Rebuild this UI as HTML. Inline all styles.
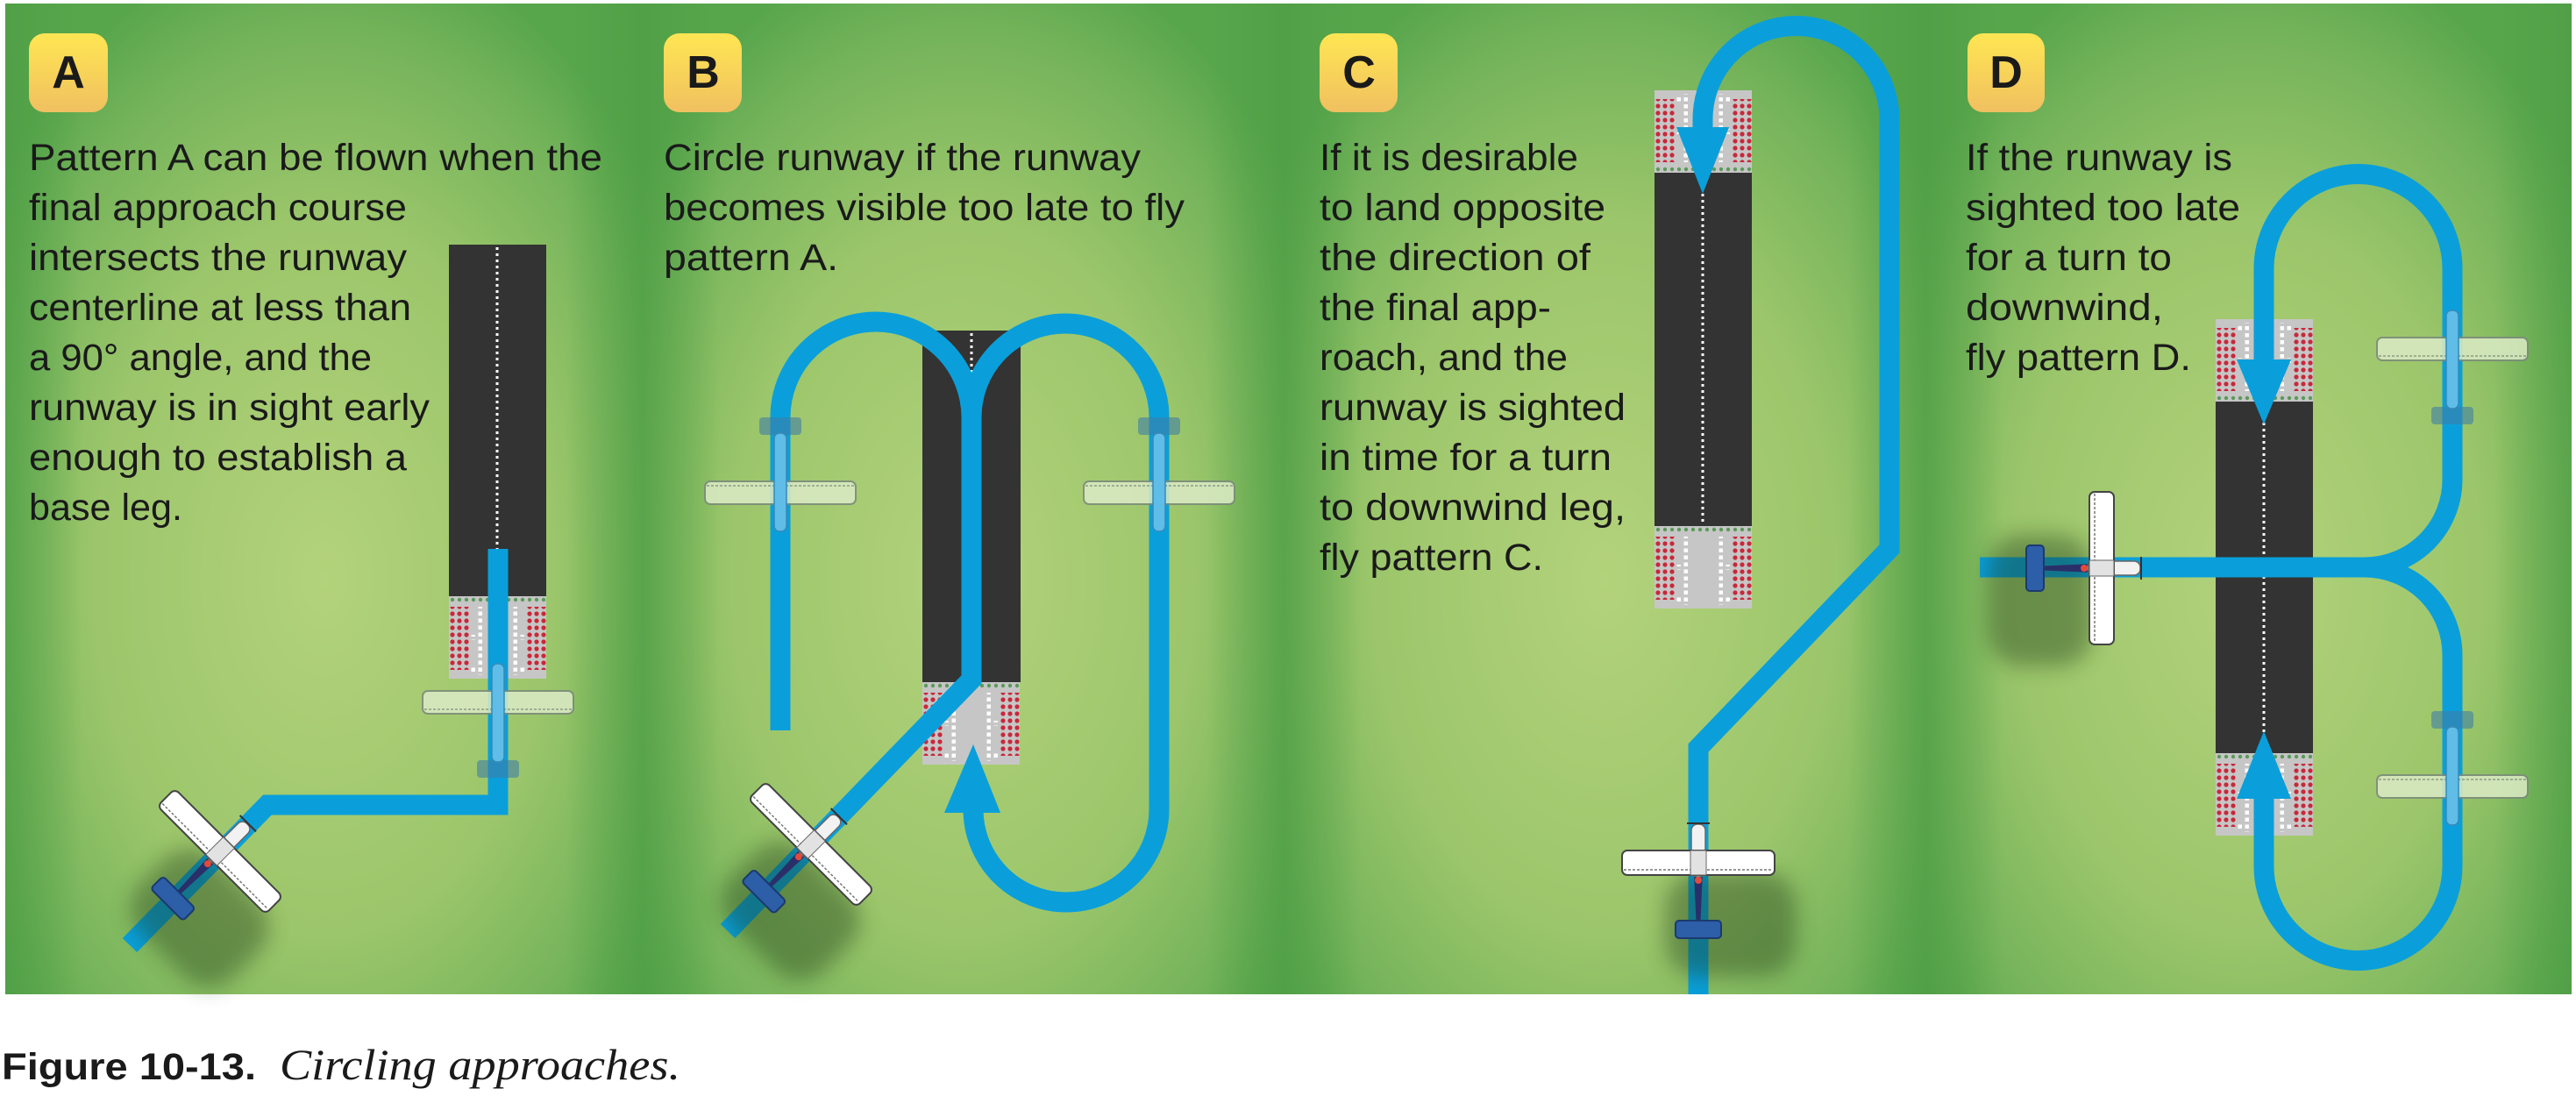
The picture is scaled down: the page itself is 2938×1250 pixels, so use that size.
<!DOCTYPE html>
<html><head><meta charset="utf-8"><style>html,body{margin:0;padding:0;background:#fff}svg{display:block}</style></head>
<body>
<svg width="2938" height="1250" viewBox="0 0 2938 1250" xmlns="http://www.w3.org/2000/svg">
<defs>
<radialGradient id="bg" cx="50%" cy="58%" r="65%">
<stop offset="0" stop-color="#b3d27b"/><stop offset="0.55" stop-color="#9cc66b"/><stop offset="0.85" stop-color="#74b35a"/><stop offset="1" stop-color="#58a64c"/>
</radialGradient>
<linearGradient id="edge" x1="0" y1="0" x2="1" y2="0">
<stop offset="0" stop-color="#4e9e45" stop-opacity="0.75"/><stop offset="0.12" stop-color="#4e9e45" stop-opacity="0"/><stop offset="0.88" stop-color="#4e9e45" stop-opacity="0"/><stop offset="1" stop-color="#4e9e45" stop-opacity="0.75"/>
</linearGradient>
<linearGradient id="badge" x1="0" y1="0" x2="0" y2="1"><stop offset="0" stop-color="#ffe653"/><stop offset="1" stop-color="#f0c060"/></linearGradient>
<pattern id="red" x="0" y="0" width="8" height="8" patternUnits="userSpaceOnUse"><circle cx="4" cy="4" r="2.6" fill="#c8283a"/></pattern>
<pattern id="grn" x="0" y="0" width="8" height="8" patternUnits="userSpaceOnUse"><circle cx="4" cy="4" r="2.2" fill="#5a9a5a"/></pattern>
<pattern id="wht" x="0" y="0" width="8" height="8" patternUnits="userSpaceOnUse"><rect x="1.5" y="1.5" width="4.5" height="4.5" fill="#fff"/></pattern>
<filter id="blur" x="-50%" y="-50%" width="200%" height="200%"><feGaussianBlur stdDeviation="12"/></filter>
<g id="thr">
<rect x="0" y="0" width="111" height="94" fill="#c6c6c6"/>
<rect x="0" y="0" width="111" height="8" fill="url(#grn)"/>
<rect x="0" y="12" width="24" height="72" fill="url(#red)"/>
<rect x="87" y="12" width="24" height="72" fill="url(#red)"/>
<rect x="32" y="12" width="6" height="78" fill="url(#wht)"/>
<rect x="73" y="12" width="6" height="78" fill="url(#wht)"/>
<rect x="24" y="44" width="16" height="6" fill="url(#wht)"/>
<rect x="72" y="44" width="16" height="6" fill="url(#wht)"/>
<rect x="24" y="80" width="16" height="6" fill="url(#wht)"/>
<rect x="72" y="80" width="16" height="6" fill="url(#wht)"/>
</g>
<g id="plane">
<rect x="-60" y="-20" width="150" height="120" rx="40" fill="#1d3a14" opacity="0.4" filter="url(#blur)" transform="translate(22,30)"/>
<path d="M-5,10 L5,10 L2,78 L-2,78 Z" fill="#2a2f6a"/>
<rect x="-26" y="66" width="52" height="20" rx="4" fill="#2d5ea8" stroke="#1b3a6e" stroke-width="2"/>
<rect x="-8" y="-44" width="16" height="60" rx="7" fill="#f2f2f2" stroke="#666" stroke-width="1.5"/>
<line x1="-13" y1="-45" x2="13" y2="-45" stroke="#333" stroke-width="2"/>
<rect x="-87" y="-14" width="174" height="28" rx="6" fill="#fff" stroke="#444" stroke-width="2"/>
<line x1="-85" y1="8" x2="85" y2="8" stroke="#777" stroke-width="1.5" stroke-dasharray="3,2"/>
<rect x="-9" y="-14" width="18" height="28" fill="#e2e2e2" stroke="#666" stroke-width="1"/>
<circle cx="0" cy="20" r="4" fill="#e34a3a"/>
</g>
<g id="ghost" opacity="0.85">
<rect x="-24" y="66" width="48" height="20" rx="4" fill="#3f7fa6" opacity="0.7"/>
<rect x="-86" y="-13" width="172" height="26" rx="6" fill="#dcebc6" stroke="#7b8a7c" stroke-width="2"/>
<line x1="-84" y1="8" x2="84" y2="8" stroke="#8a968a" stroke-width="1.5" stroke-dasharray="3,2"/>
<rect x="-7" y="-44" width="14" height="112" rx="6" fill="#6ec3ea" stroke="#3f86b0" stroke-width="1.5"/>
</g>
</defs>
<rect width="2938" height="1250" fill="#fff"/>
<rect x="6" y="4" width="727" height="1130" fill="url(#bg)"/>
<rect x="733" y="4" width="731" height="1130" fill="url(#bg)"/>
<rect x="1464" y="4" width="732" height="1130" fill="url(#bg)"/>
<rect x="2196" y="4" width="737" height="1130" fill="url(#bg)"/>
<rect x="6" y="4" width="727" height="1130" fill="url(#edge)"/>
<rect x="733" y="4" width="731" height="1130" fill="url(#edge)"/>
<rect x="1464" y="4" width="732" height="1130" fill="url(#edge)"/>
<rect x="2196" y="4" width="737" height="1130" fill="url(#edge)"/>

<g font-family="Liberation Sans, sans-serif" font-weight="bold" font-size="52" fill="#1a1a1a" text-anchor="middle">
<rect x="33" y="38" width="90" height="90" rx="18" fill="url(#badge)"/><text x="78" y="100">A</text>
<rect x="757" y="38" width="89" height="90" rx="18" fill="url(#badge)"/><text x="802" y="100">B</text>
<rect x="1505" y="38" width="89" height="90" rx="18" fill="url(#badge)"/><text x="1550" y="100">C</text>
<rect x="2244" y="38" width="88" height="90" rx="18" fill="url(#badge)"/><text x="2288" y="100">D</text>
</g>

<g font-family="Liberation Sans, sans-serif" font-size="43" fill="#1a1a1a">
<text x="33" y="194" textLength="654" lengthAdjust="spacingAndGlyphs">Pattern A can be flown when the</text>
<text x="33" y="251" textLength="431" lengthAdjust="spacingAndGlyphs">final approach course</text>
<text x="33" y="308" textLength="431" lengthAdjust="spacingAndGlyphs">intersects the runway</text>
<text x="33" y="365" textLength="436" lengthAdjust="spacingAndGlyphs">centerline at less than</text>
<text x="33" y="422" textLength="391" lengthAdjust="spacingAndGlyphs">a 90° angle, and the</text>
<text x="33" y="479" textLength="457" lengthAdjust="spacingAndGlyphs">runway is in sight early</text>
<text x="33" y="536" textLength="431" lengthAdjust="spacingAndGlyphs">enough to establish a</text>
<text x="33" y="593" textLength="175" lengthAdjust="spacingAndGlyphs">base leg.</text>

<text x="757" y="194" textLength="544" lengthAdjust="spacingAndGlyphs">Circle runway if the runway</text>
<text x="757" y="251" textLength="594" lengthAdjust="spacingAndGlyphs">becomes visible too late to fly</text>
<text x="757" y="308" textLength="199" lengthAdjust="spacingAndGlyphs">pattern A.</text>

<text x="1505" y="194" textLength="295" lengthAdjust="spacingAndGlyphs">If it is desirable</text>
<text x="1505" y="251" textLength="326" lengthAdjust="spacingAndGlyphs">to land opposite</text>
<text x="1505" y="308" textLength="309" lengthAdjust="spacingAndGlyphs">the direction of</text>
<text x="1505" y="365" textLength="264" lengthAdjust="spacingAndGlyphs">the final app-</text>
<text x="1505" y="422" textLength="283" lengthAdjust="spacingAndGlyphs">roach, and the</text>
<text x="1505" y="479" textLength="349" lengthAdjust="spacingAndGlyphs">runway is sighted</text>
<text x="1505" y="536" textLength="333" lengthAdjust="spacingAndGlyphs">in time for a turn</text>
<text x="1505" y="593" textLength="349" lengthAdjust="spacingAndGlyphs">to downwind leg,</text>
<text x="1505" y="650" textLength="255" lengthAdjust="spacingAndGlyphs">fly pattern C.</text>

<text x="2242" y="194" textLength="304" lengthAdjust="spacingAndGlyphs">If the runway is</text>
<text x="2242" y="251" textLength="313" lengthAdjust="spacingAndGlyphs">sighted too late</text>
<text x="2242" y="308" textLength="235" lengthAdjust="spacingAndGlyphs">for a turn to</text>
<text x="2242" y="365" textLength="225" lengthAdjust="spacingAndGlyphs">downwind,</text>
<text x="2242" y="422" textLength="257" lengthAdjust="spacingAndGlyphs">fly pattern D.</text>
</g>

<g>
<rect x="512" y="279" width="111" height="401" fill="#333"/>
<line x1="567" y1="282" x2="567" y2="680" stroke="#fff" stroke-width="3" stroke-dasharray="3,4"/>
<use href="#thr" x="512" y="680"/>

<rect x="1052" y="377" width="112" height="401" fill="#333"/>
<line x1="1108" y1="380" x2="1108" y2="440" stroke="#fff" stroke-width="3" stroke-dasharray="3,4"/>
<use href="#thr" x="1052" y="778"/>

<rect x="1887" y="197" width="111" height="403" fill="#333"/>
<line x1="1942" y1="200" x2="1942" y2="598" stroke="#fff" stroke-width="3" stroke-dasharray="3,4"/>
<use href="#thr" x="1887" y="600"/>
<use href="#thr" transform="translate(1887,197) scale(1,-1)"/>

<rect x="2527" y="458" width="111" height="401" fill="#333"/>
<line x1="2582" y1="461" x2="2582" y2="858" stroke="#fff" stroke-width="3" stroke-dasharray="3,4"/>
<use href="#thr" x="2527" y="859"/>
<use href="#thr" transform="translate(2527,458) scale(1,-1)"/>
</g>

<g fill="none" stroke="#0a9fda" stroke-width="23" stroke-linejoin="miter">
<path d="M568,626 V918 H305 L148,1078"/>
<path d="M830,1062 L1108,775 V476 A109,109 0 0 0 890,476 V833"/>
<path d="M1108,476 A107,107 0 0 1 1322,476 V923 A106,106 0 0 1 1110,923 V920"/>
<path d="M1937,1134 V853 L2155,626 V136 A106.5,106.5 0 0 0 1942,136 V150"/>
<path d="M2258,647 H2697"/>
<path d="M2697,647 A100,100 0 0 0 2797,547 V306 A107.5,107.5 0 0 0 2582,306 V414"/>
<path d="M2697,647 A100,100 0 0 1 2797,747 V988 A107.5,107.5 0 0 1 2582,988 V909"/>
</g>
<g fill="#0a9fda">
<polygon points="1077,927 1141,927 1110,849"/>
<polygon points="1912,145 1972,145 1942,221"/>
<polygon points="2551,410 2613,410 2582,484"/>
<polygon points="2551,911 2613,911 2582,834"/>
</g>

<use href="#ghost" transform="translate(568,801)"/>
<use href="#ghost" transform="translate(890,562) rotate(180)"/>
<use href="#ghost" transform="translate(1322,562) rotate(180)"/>
<use href="#ghost" transform="translate(2797,398)"/>
<use href="#ghost" transform="translate(2797,897) rotate(180)"/>
<use href="#plane" transform="translate(251,971) rotate(45)"/>
<use href="#plane" transform="translate(925,963) rotate(45)"/>
<use href="#plane" transform="translate(1937,984)"/>
<use href="#plane" transform="translate(2397,648) rotate(90)"/>

<text x="2" y="1231" font-family="Liberation Sans, sans-serif" font-weight="bold" font-size="43" fill="#1a1a1a" textLength="290" lengthAdjust="spacingAndGlyphs">Figure 10-13.</text>
<text x="319" y="1231" font-family="Liberation Serif, serif" font-style="italic" font-size="50" fill="#1a1a1a" textLength="457" lengthAdjust="spacingAndGlyphs">Circling approaches.</text>
</svg>
</body></html>
